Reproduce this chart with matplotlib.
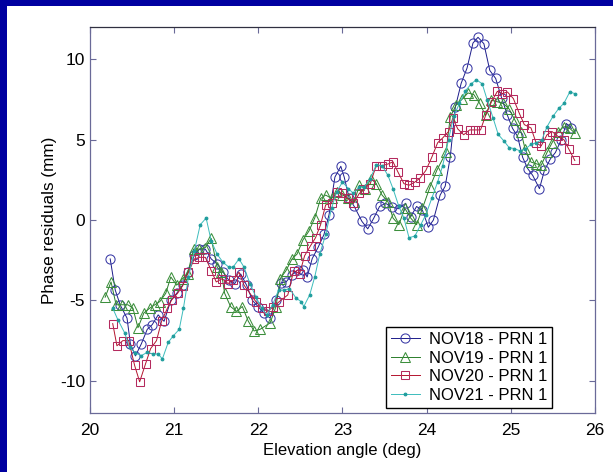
import numpy as np
import matplotlib
matplotlib.use("Agg")
import matplotlib.pyplot as plt
from matplotlib.patches import Rectangle
from matplotlib import font_manager

# ── data (elevation angle deg, residual mm) ───────────────────────────────────
nov18_x = [20.24, 20.30, 20.36, 20.44, 20.48, 20.54, 20.61, 20.68, 20.74, 20.81,
           20.88, 20.96, 21.03, 21.10, 21.16, 21.24, 21.30, 21.37, 21.44, 21.51,
           21.58, 21.65, 21.72, 21.79, 21.86, 21.93, 22.00, 22.07, 22.14, 22.21,
           22.27, 22.33, 22.40, 22.47, 22.53, 22.58, 22.64, 22.71, 22.78, 22.84,
           22.91, 22.98, 23.02, 23.08, 23.14, 23.23, 23.30, 23.37, 23.44, 23.51,
           23.59, 23.67, 23.75, 23.81, 23.88, 23.95, 24.02, 24.08, 24.16, 24.22,
           24.28, 24.34, 24.41, 24.48, 24.55, 24.61, 24.68, 24.75, 24.82, 24.89,
           24.96, 25.02, 25.08, 25.14, 25.20, 25.26, 25.34, 25.40, 25.47, 25.53,
           25.60, 25.66, 25.72]
nov18_y = [-2.42, -4.36, -5.3, -6.1, -7.7, -8.45, -7.7, -6.8, -6.5, -5.9,
           -6.3, -5.0, -4.56, -4.05, -3.24, -2.2, -1.81, -1.81, -2.42, -2.73,
           -3.24, -3.75, -3.95, -3.35, -4.05, -5.0, -5.4, -5.8, -6.1, -4.97,
           -3.9, -3.85, -3.4, -3.1, -3.1, -3.54, -2.4, -1.7, -0.9, 0.33,
           2.67, 3.34, 2.67, 1.34, 0.84, -0.08, -0.55, 0.1, 0.84, 1.04,
           0.8, 0.7, 1.04, 0.2, 0.84, 0.6, -0.45, 0.0, 1.55, 2.1,
           3.9, 7.0, 8.5, 9.45, 11.0, 11.36, 10.96, 9.3, 8.8, 7.6,
           6.5, 5.7, 5.2, 3.9, 3.2, 2.77, 1.95, 3.1, 3.8, 4.2,
           5.0, 6.0, 5.7]

nov19_x = [20.18, 20.25, 20.31, 20.38, 20.45, 20.51, 20.57, 20.64, 20.71, 20.77,
           20.83, 20.90, 20.96, 21.03, 21.10, 21.16, 21.23, 21.30, 21.37, 21.44,
           21.51, 21.56, 21.60, 21.67, 21.74, 21.81, 21.88, 21.95, 22.02, 22.14,
           22.21, 22.26, 22.33, 22.40, 22.46, 22.53, 22.60, 22.67, 22.74, 22.80,
           22.87, 22.94, 23.00, 23.07, 23.14, 23.20, 23.27, 23.34, 23.40, 23.47,
           23.54, 23.60, 23.67, 23.74, 23.81, 23.88, 23.95, 24.04, 24.12, 24.23,
           24.28, 24.35, 24.42, 24.49, 24.56, 24.63, 24.70, 24.77, 24.84, 24.91,
           24.98, 25.05, 25.12, 25.17, 25.24, 25.30, 25.36, 25.43, 25.49, 25.56,
           25.63, 25.70, 25.76]
nov19_y = [-4.8, -3.85, -5.27, -5.27, -5.27, -5.48, -6.7, -5.78, -5.48, -5.27,
           -5.07, -4.56, -3.54, -4.05, -3.65, -3.34, -1.81, -1.81, -1.71, -1.14,
           -2.93, -3.24, -4.56, -5.38, -5.68, -5.38, -6.29, -6.9, -6.8, -6.4,
           -5.38, -3.65, -3.14, -2.42, -2.12, -1.24, -0.7, 0.12, 1.34, 1.55,
           1.34, 1.75, 1.55, 1.34, 1.14, 2.16, 1.95, 2.57, 2.26, 1.55,
           1.14, 0.12, -0.29, 0.73, 0.12, -0.29, 0.73, 2.06, 3.08, 4.2,
           6.4, 7.15, 7.5, 7.9, 7.8, 7.25, 6.5, 7.45, 7.35, 7.25,
           6.9, 6.2, 5.5, 4.4, 3.6, 3.5, 3.4, 4.2, 4.8, 5.5,
           5.8, 5.7, 5.4]

nov20_x = [20.27, 20.32, 20.39, 20.46, 20.53, 20.59, 20.66, 20.72, 20.79, 20.85,
           20.92, 20.97, 21.04, 21.10, 21.17, 21.24, 21.30, 21.37, 21.44, 21.50,
           21.57, 21.64, 21.70, 21.77, 21.83, 21.90, 21.97, 22.04, 22.11, 22.18,
           22.25, 22.35, 22.42, 22.49, 22.55, 22.62, 22.68, 22.74, 22.80, 22.87,
           22.93, 23.00, 23.06, 23.13, 23.20, 23.26, 23.33, 23.40, 23.47, 23.54,
           23.60, 23.66, 23.73, 23.79, 23.86, 23.92, 23.99, 24.06, 24.13, 24.19,
           24.26, 24.31, 24.37, 24.44, 24.51, 24.57, 24.64, 24.70, 24.77, 24.84,
           24.90, 24.96, 25.03, 25.10, 25.16, 25.24, 25.30, 25.36, 25.43, 25.49,
           25.56, 25.63, 25.69, 25.76]
nov20_y = [-6.44, -7.82, -7.5, -7.5, -9.04, -10.06, -8.94, -8.0, -7.5, -6.3,
           -5.48, -4.97, -4.56, -4.1, -3.24, -2.42, -2.32, -2.32, -3.14, -3.85,
           -3.65, -3.95, -3.75, -3.24, -4.05, -4.56, -5.07, -5.48, -5.68, -5.38,
           -5.07, -4.66, -3.14, -3.34, -2.22, -1.6, -1.1, -0.29, 0.94, 1.04,
           1.75, 1.65, 1.34, 1.04, 1.65, 1.95, 2.26, 3.38, 3.38, 3.48,
           3.62, 2.97, 2.26, 2.16, 2.36, 2.6, 3.08, 3.89, 4.8, 5.1,
           5.5, 6.33, 5.66, 5.3, 5.6, 5.6, 5.6, 6.5, 7.35, 8.0,
           7.86, 7.96, 7.55, 6.64, 5.93, 5.72, 4.8, 4.6, 5.3, 5.5,
           5.2, 5.0, 4.4, 3.7]

nov21_x = [20.27, 20.33, 20.41, 20.47, 20.54, 20.61, 20.68, 20.75, 20.81, 20.86,
           20.93, 20.99, 21.06, 21.11, 21.17, 21.24, 21.31, 21.38, 21.44, 21.51,
           21.58, 21.65, 21.70, 21.77, 21.83, 21.90, 21.97, 22.04, 22.10, 22.17,
           22.24, 22.31, 22.37, 22.45, 22.51, 22.54, 22.61, 22.67, 22.73, 22.80,
           22.87, 22.93, 23.00, 23.07, 23.13, 23.20, 23.26, 23.33, 23.40, 23.47,
           23.54, 23.60, 23.67, 23.73, 23.79, 23.86, 23.93, 23.99, 24.06, 24.13,
           24.19, 24.26, 24.32, 24.39, 24.46, 24.53, 24.59, 24.66, 24.72, 24.79,
           24.85, 24.92, 24.98, 25.04, 25.11, 25.17, 25.24, 25.30, 25.37, 25.43,
           25.50, 25.57, 25.63, 25.70, 25.76]
nov21_y = [-5.48, -6.19, -7.0, -7.92, -8.27, -8.43, -8.23, -8.33, -8.33, -8.64,
           -7.6, -7.2, -6.8, -5.48, -3.54, -1.91, -0.29, 0.12, -1.3, -2.12,
           -2.63, -2.93, -2.93, -2.42, -2.93, -3.95, -4.77, -5.48, -5.89, -5.27,
           -4.36, -4.36, -4.26, -4.87, -5.07, -5.38, -4.66, -3.54, -2.12, -0.9,
           0.73, 1.75, 2.36, 1.95, 1.65, 2.06, 2.06, 2.57, 3.42, 3.38,
           2.77, 1.95, 0.84, 0.12, -1.1, -1.0, -0.29, 0.33, 1.34, 2.36,
           3.38, 5.0, 6.44, 7.25, 8.02, 8.47, 8.72, 8.47, 7.45, 6.33,
           5.32, 4.9, 4.5, 4.44, 4.3, 4.4, 4.7, 4.8, 5.0, 5.8,
           6.44, 6.94, 7.25, 7.96, 7.86]

labels = ["NOV18 - PRN 1", "NOV19 - PRN 1", "NOV20 - PRN 1", "NOV21 - PRN 1"]
x_ticks = [20, 21, 22, 23, 24, 25, 26]
y_ticks = [-10, -5, 0, 5, 10]

# ── fonts: narrow face for horizontal text if present ────────────────────────
names = {f.name for f in font_manager.fontManager.ttflist}
REG = "Liberation Sans" if "Liberation Sans" in names else "DejaVu Sans"
NARROW = "Liberation Sans Narrow" if "Liberation Sans Narrow" in names else REG

fig = plt.figure(figsize=(6.13, 4.72), dpi=100, facecolor="#0000a0")
fig.patches.append(Rectangle((7 / 613, 0), 1, 1 - 6 / 472, transform=fig.transFigure,
                             facecolor="white", edgecolor="none", zorder=-10))
ax = fig.add_axes([90 / 613, 59 / 472, 505 / 613, 386 / 472])
ax.set_zorder(5)

styles = [
    (nov18_x, nov18_y, dict(color="#1c1c8a", marker="o", ms=6.6, mfc="none", mec="#3a3aa6")),
    (nov19_x, nov19_y, dict(color="#2a7d2a", marker="^", ms=6.6, mfc="none", mec="#3c8f3c")),
    (nov20_x, nov20_y, dict(color="#b4142e", marker="s", ms=5.6, mfc="none", mec="#b42a5e")),
    (nov21_x, nov21_y, dict(color="#3cbcbc", marker=".", ms=4.0, mfc="#1e9c9c", mec="#1e9c9c")),
]
for (xs, ys, st), lab in zip(styles, labels):
    ax.plot(xs, ys, lw=0.7, mew=0.75, label=lab, **st)

ax.set_xlim(20, 26)
ax.set_ylim(-12, 12)
ax.set_xticks(x_ticks)
ax.set_yticks(y_ticks)
ax.set_xticklabels([str(t) for t in x_ticks], family=NARROW, fontsize=12.5)
ax.set_yticklabels([str(t) for t in y_ticks], family=NARROW, fontsize=12.5)
ax.tick_params(direction="in", length=4.5, width=0.8, color="#6a6a98",
               top=True, right=True)
ax.tick_params(axis="x", pad=7)
ax.tick_params(axis="y", pad=3.5)
for sp in ax.spines.values():
    sp.set_color("#6a6a98")
    sp.set_linewidth(0.9)
ax.spines["top"].set_color("#303040")

ax.set_xlabel("Elevation angle (deg)", family=NARROW, fontsize=12, labelpad=4)
ax.set_ylabel("Phase residuals (mm)", family=REG, fontsize=12.3, labelpad=2)

leg = ax.legend(loc="lower right", bbox_to_anchor=(0.915, 0.013), borderaxespad=0,
                prop={"family": NARROW, "size": 12}, fancybox=False, framealpha=1,
                edgecolor="black", handlelength=1.7, handletextpad=0.55,
                labelspacing=0.22, borderpad=0.3)
leg.get_frame().set_linewidth(1.0)

fig.savefig("out.png", dpi=100, facecolor=fig.get_facecolor())
